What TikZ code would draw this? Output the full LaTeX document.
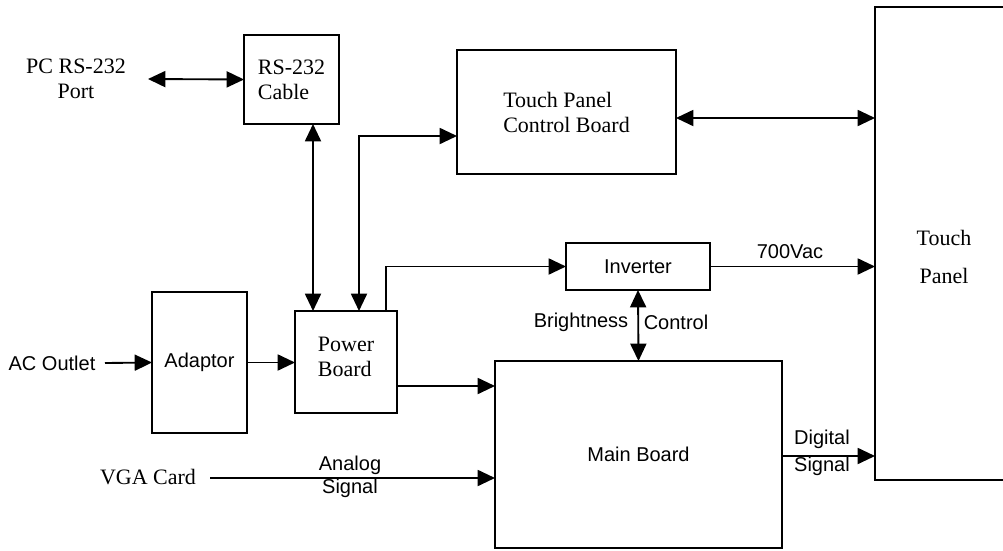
\documentclass[tikz,border=0pt]{standalone}
\usepackage{fontspec}
\setmainfont{Liberation Serif}
\newfontfamily\sansf{Liberation Sans}
\usetikzlibrary{arrows.meta}
\begin{document}
\begin{tikzpicture}[x=0.75pt,y=-0.75pt,
  line width=1.4pt,
  serif/.style={font=\fontsize{16.5}{18.75}\selectfont},
  sans/.style={font=\sansf\fontsize{15}{17.25}\selectfont},
  blk/.style={draw,rectangle,inner sep=0pt,outer sep=0pt},
  txt/.style={inner sep=0pt,align=center},
  onearrow/.style={-{Triangle[length=13pt,width=12pt]}},
  twoarrow/.style={{Triangle[length=13pt,width=12pt]}-{Triangle[length=13pt,width=12pt]}}]
\useasboundingbox (0,0) rectangle (1003,550);
% boxes
\node[blk,minimum width=71.25pt,minimum height=66.75pt,serif,align=left] (cable) at (291.5,79.5) {RS-232\\Cable};
\node[blk,minimum width=164.25pt,minimum height=93pt,serif,align=left] (tpcb) at (566.5,112) {Touch Panel\\Control Board};
\node[blk,minimum width=108pt,minimum height=35.25pt,sans] (inverter) at (638,266.5) {Inverter};
\node[blk,minimum width=71.25pt,minimum height=105.75pt,sans] (adaptor) at (199.5,362.5) {Adaptor};
\node[blk,minimum width=76.5pt,minimum height=76.5pt] (power) at (346,362) {};
\node[txt,serif,align=left] (powertext) at (346,357) {Power\\Board};
\node[blk,minimum width=215.25pt,minimum height=140.25pt,sans] (main) at (638.5,454.5) {Main Board};
\node[rectangle,inner sep=0pt,outer sep=0pt,minimum width=96pt,minimum height=354.75pt] (panel) at (939,243.5) {};
\draw (panel.north east) -- (panel.north west) -- (panel.south west) -- (panel.south east);
\node[txt,serif,font=\fontsize{16.5}{28.5}\selectfont] (paneltext) at (944,257) {Touch\\Panel};
% free texts
\node[txt,serif] (pc) at (76,79) {PC RS-232\\Port};
\node[txt,sans] (ac) at (52,363) {AC Outlet};
\node[txt,serif] (vga) at (148,477) {VGA Card};
\node[txt,sans] (analog) at (350,477) {Analog\\Signal};
\node[txt,sans] (vac) at (790,252) {700Vac};
\node[txt,sans] (bright) at (581,322) {Brightness};
\node[txt,sans] (ctrl) at (676,322) {Control};
\node[txt,sans,font=\sansf\fontsize{15}{20.25}\selectfont] (digital) at (822,453) {Digital\\Signal};
% helper coordinates
\coordinate (pcend) at (148,79);
\coordinate (k313) at (313,0);
\coordinate (k1) at (359,136);
\coordinate (k2) at (386,266);
\coordinate (k3) at (0,118);
\coordinate (k4) at (0,386);
\coordinate (k5) at (0,456);
\coordinate (acend) at (105,363);
\coordinate (vgaend) at (210,478);
% connectors
\draw[twoarrow] (pcend) -- (cable.west);
\draw[twoarrow] (cable.south -| k313) -- (power.north -| k313);
\draw[twoarrow] (power.north -| k1) |- (tpcb.west |- k1);
\draw[onearrow] (power.north -| k2) |- (inverter.west);
\draw[twoarrow] (tpcb.east |- k3) -- (panel.west |- k3);
\draw[onearrow] (inverter.east) -- (panel.west |- inverter.east);
\draw[twoarrow] (inverter.south) -- (main.north);
\draw[onearrow] (acend) -- (adaptor.west);
\draw[onearrow] (adaptor.east) -- (power.west |- adaptor.east);
\draw[onearrow] (power.east |- k4) -- (main.west |- k4);
\draw[onearrow] (vgaend) -- (main.west |- vgaend);
\draw[onearrow] (main.east |- k5) -- (panel.west |- k5);
\end{tikzpicture}
\end{document}
